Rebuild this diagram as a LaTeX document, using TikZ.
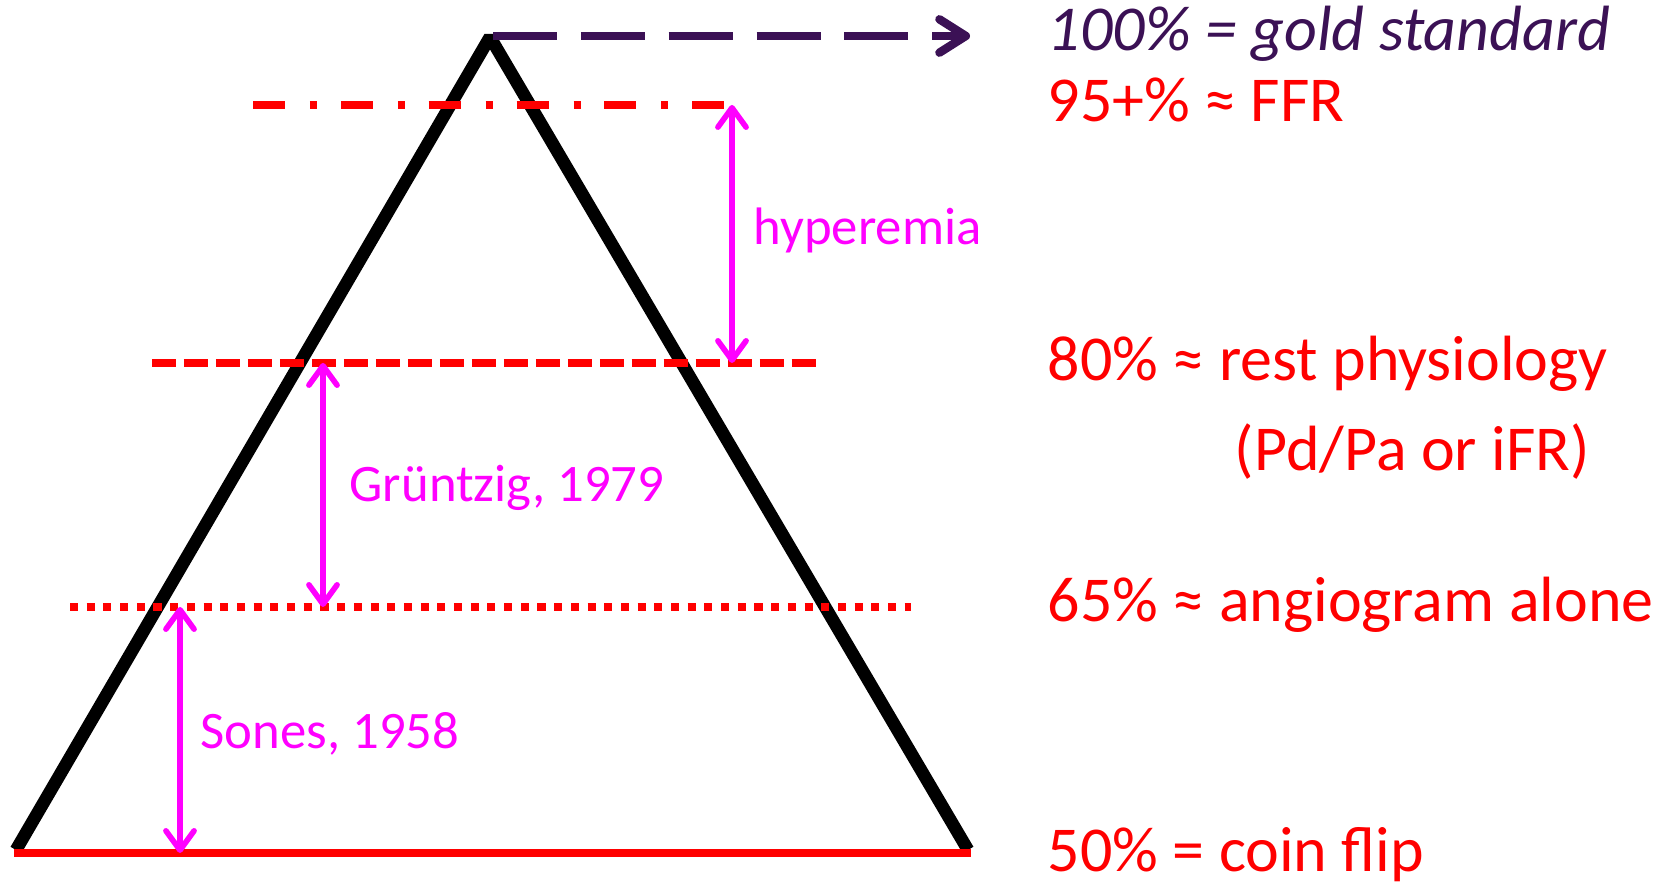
\documentclass[tikz,border=0pt]{standalone}
\usepackage{fontspec}
\setmainfont{Carlito}
\usepackage{xcolor}
\usepackage{tikz}
\usetikzlibrary{positioning,arrows.meta}
\definecolor{goldpurple}{RGB}{59,17,85}
\definecolor{spanpink}{RGB}{255,0,255}
\definecolor{lvlred}{RGB}{255,0,0}
\tikzset{
side/.style={
draw=black,
line width=3.6pt
},
lvl/.style={
draw=lvlred,
line width=2.2pt
},
span/.style={
draw=spanpink,
line width=1.6pt,
{Straight Barb[round,length=5.5pt,width=8pt]}-{Straight Barb[round,length=5.5pt,width=8pt]}
},
spanlabel/.style={
anchor=base west,
inner sep=0pt,
text=spanpink,
font=\fontsize{15}{18}\selectfont
},
lvllabel/.style={
anchor=base west,
inner sep=0pt,
text=lvlred,
font=\fontsize{18.2}{22}\selectfont
}
}

\begin{document}
\begin{tikzpicture}
\useasboundingbox (0,0) rectangle (16.68,8.84);
% pyramid
\coordinate (top) at (4.90,8.47);
\coordinate (bl) at (0.16,0.34);
\coordinate (br) at (9.68,0.34);
\draw[side,line join=bevel](bl)--(top)--(br);

% level lines
\coordinate (ffrL) at (2.53,7.79);
\coordinate (ffrR) at (7.25,7.79);
\coordinate (restL) at (1.52,5.21);
\coordinate (restR) at (8.20,5.21);
\coordinate (angioL) at (0.70,2.77);
\coordinate (angioR) at (9.11,2.77);
\coordinate (coinL) at (0.14,0.31);
\coordinate (coinR) at (9.71,0.31);
\draw[lvl,dash pattern=on 9.1pt off 7.1pt on 2pt off 6.8pt](ffrL)--(ffrR);
\draw[lvl,dash pattern=on 6.8pt off 2.3pt](restL)--(restR);
\draw[lvl,line width=2.4pt,dash pattern=on 2.3pt off 2.45pt](angioL)--(angioR);
\draw[lvl](coinL)--(coinR);

% gold standard arrow
\coordinate (goldL) at (4.93,8.48);
\coordinate (goldR) at (9.70,8.48);
\draw[goldpurple,line width=2.4pt,dash pattern=on 18.2pt off 6.8pt,-{Straight Barb[round,length=7.5pt,width=9.5pt]}](goldL)--(goldR);

% spans between levels
\coordinate (hypA) at (7.32,7.79);
\coordinate (hypB) at (7.32,5.21);
\coordinate (gruA) at (3.23,5.21);
\coordinate (gruB) at (3.23,2.77);
\coordinate (sonA) at (1.80,2.77);
\coordinate (sonB) at (1.80,0.31);
\foreach \a/\b in {hypA/hypB,gruA/gruB,sonA/sonB}
\draw[span](\a)--(\b);

\node[spanlabel](hyp) at (7.53,6.39){hyperemia};
\node[spanlabel](gru) at (3.49,3.82){Grüntzig, 1979};
\node[spanlabel](son) at (2.00,1.35){Sones, 1958};

% levels
\node[lvllabel,text=goldpurple,font=\fontsize{18.2}{22}\selectfont\itshape](gold) at (10.47,8.33){100\% = gold standard};
\node[lvllabel](ffr) at (10.47,7.62){95+\% ≈ FFR};
\node[lvllabel](rest) at (10.47,5.03){80\% ≈ rest physiology};
\node[lvllabel](pdpa) at (12.34,4.13){(Pd/Pa or iFR)};
\node[lvllabel](angio) at (10.47,2.62){65\% ≈ angiogram alone};
\node[lvllabel](coin) at (10.47,0.12){50\% = coin flip};
\end{tikzpicture}
\end{document}
